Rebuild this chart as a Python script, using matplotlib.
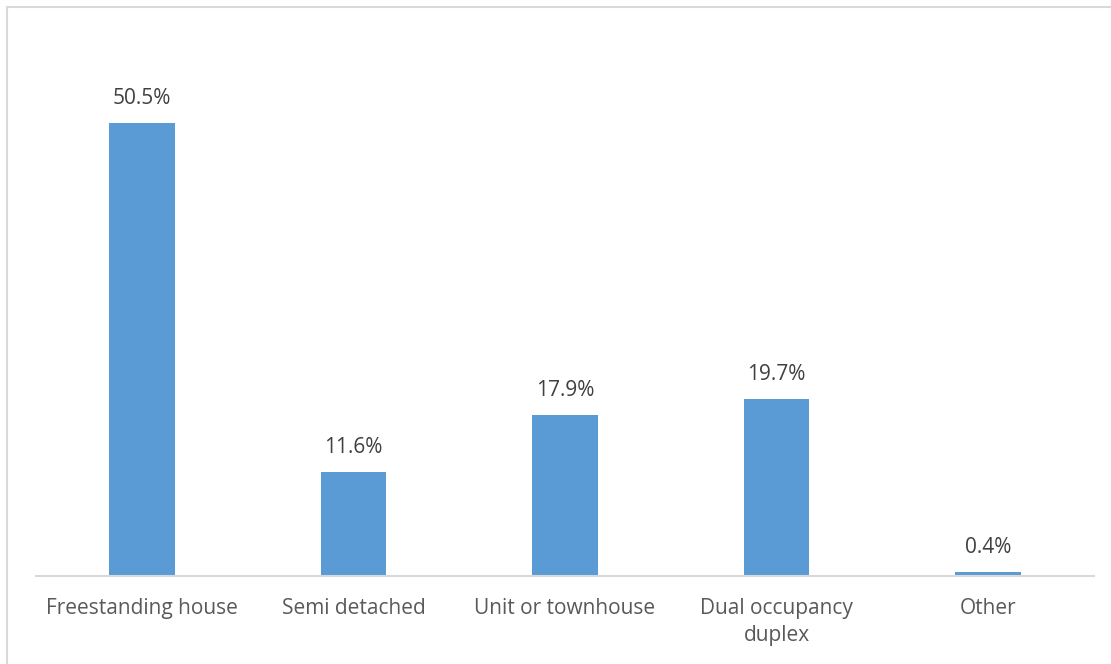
import matplotlib.pyplot as plt
from matplotlib.patches import Rectangle

categories = ["Freestanding house", "Semi detached", "Unit or townhouse",
              "Dual occupancy\nduplex", "Other"]
shares = [50.5, 11.6, 17.9, 19.7, 0.4]

plt.rcParams['font.family'] = ['Open Sans', 'DejaVu Sans']

fig = plt.figure(figsize=(11.11, 6.64), dpi=100)
ax = fig.add_axes([36 / 1111, 88 / 664, 1058 / 1111, 538 / 664])

x = range(len(categories))
bars = ax.bar(x, shares, width=0.31, color="#5B9BD5")

for b, v in zip(bars, shares):
    ax.annotate(f"{v}%", (b.get_x() + b.get_width() / 2, v),
                xytext=(0, 14), textcoords="offset pixels",
                ha="center", va="bottom", fontsize=15, color="#404040")

ax.set_xlim(-0.5, len(categories) - 0.5)
ax.set_ylim(0, 60)
ax.set_xticks(list(x))
ax.set_xticklabels(categories, fontsize=15, color="#595959", va="top",
                   linespacing=1.35)
ax.tick_params(axis="x", length=0, pad=16)
ax.set_yticks([])
for s in ["top", "right", "left"]:
    ax.spines[s].set_visible(False)
ax.spines["bottom"].set_color("#D9D9D9")
ax.spines["bottom"].set_linewidth(1.5)

# chart area outline (only top/left edges fall inside the image)
fig.patches.append(Rectangle((7 / 1111, -0.1), 1.2, (664 - 7) / 664 + 0.1,
                             transform=fig.transFigure, fill=False,
                             edgecolor="#D9D9D9", linewidth=1.5))

fig.savefig("out.png", dpi=100)
